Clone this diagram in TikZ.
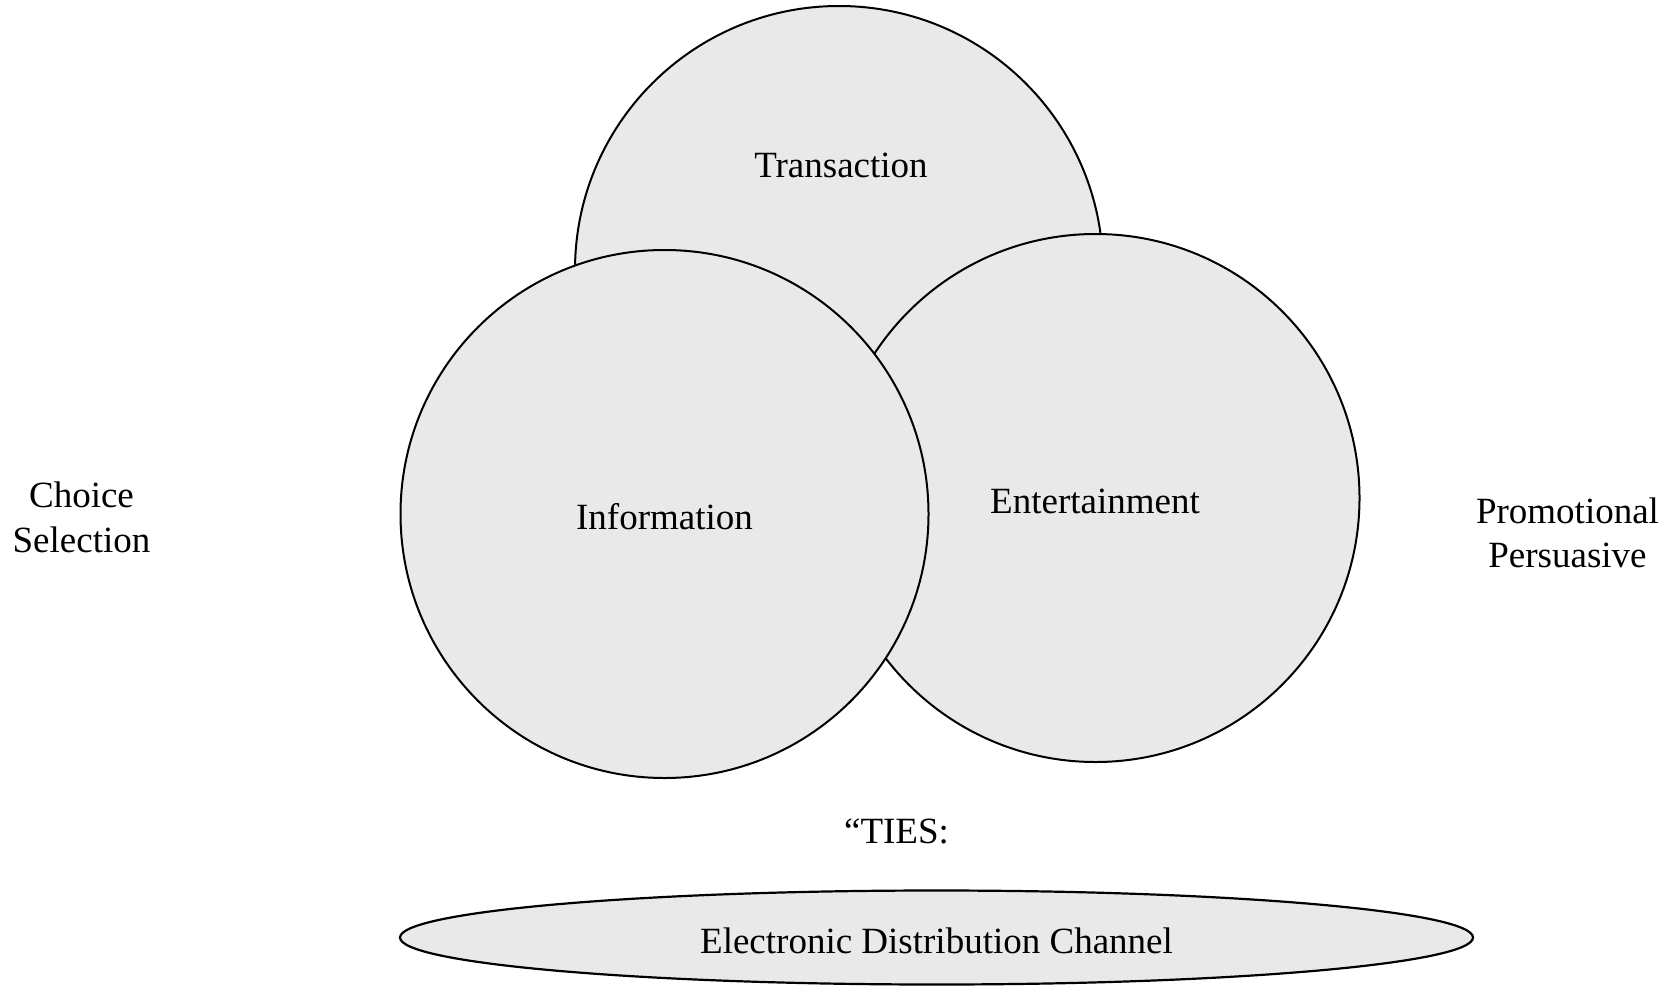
\documentclass[tikz,border=0pt]{standalone}
\usepackage{fontspec}
\setmainfont{Liberation Serif}
\usetikzlibrary{shapes.geometric}
\definecolor{discfill}{RGB}{233,233,233}
\begin{document}
\begin{tikzpicture}[x=1pt,y=-1pt,
  disc/.style={circle,draw=black,fill=discfill,line width=2pt,inner sep=0pt,minimum size=528pt},
  label/.style={anchor=base,inner sep=0pt,font=\fontsize{37}{44}\selectfont},
  side/.style={anchor=base,inner sep=0pt,font=\fontsize{37}{45}\selectfont,align=center}]
\useasboundingbox (0,0) rectangle (1675,985);
\fill[white] (0,0) rectangle (1675,985);

% the three overlapping discs, back to front
\node[disc] (trans) at (839,270) {};
\node[disc] (ent) at (1095.5,498) {};
\node[disc] (info) at (664.5,514) {};

% base channel
\node[ellipse,draw=black,fill=discfill,line width=2.2pt,inner sep=0pt,
      minimum width=1073pt,minimum height=94pt] (chan) at (936.5,937.5) {};

% labels
\node[label] (transT) at (841,177) {Transaction};
\node[label] (infoT) at (664.5,529) {Information};
\node[label] (entT) at (1095,513) {Entertainment};
\node[label] (ties) at (896.5,843) {“TIES:};
\node[label] (chanT) at (936.5,953) {Electronic Distribution Channel};

\node[side] (choice) at (81.5,507) {Choice};
\node[side] (select) at (81.5,552) {Selection};
\node[side] (promo) at (1567.5,523) {Promotional};
\node[side] (persu) at (1567.5,567) {Persuasive};
\end{tikzpicture}
\end{document}
